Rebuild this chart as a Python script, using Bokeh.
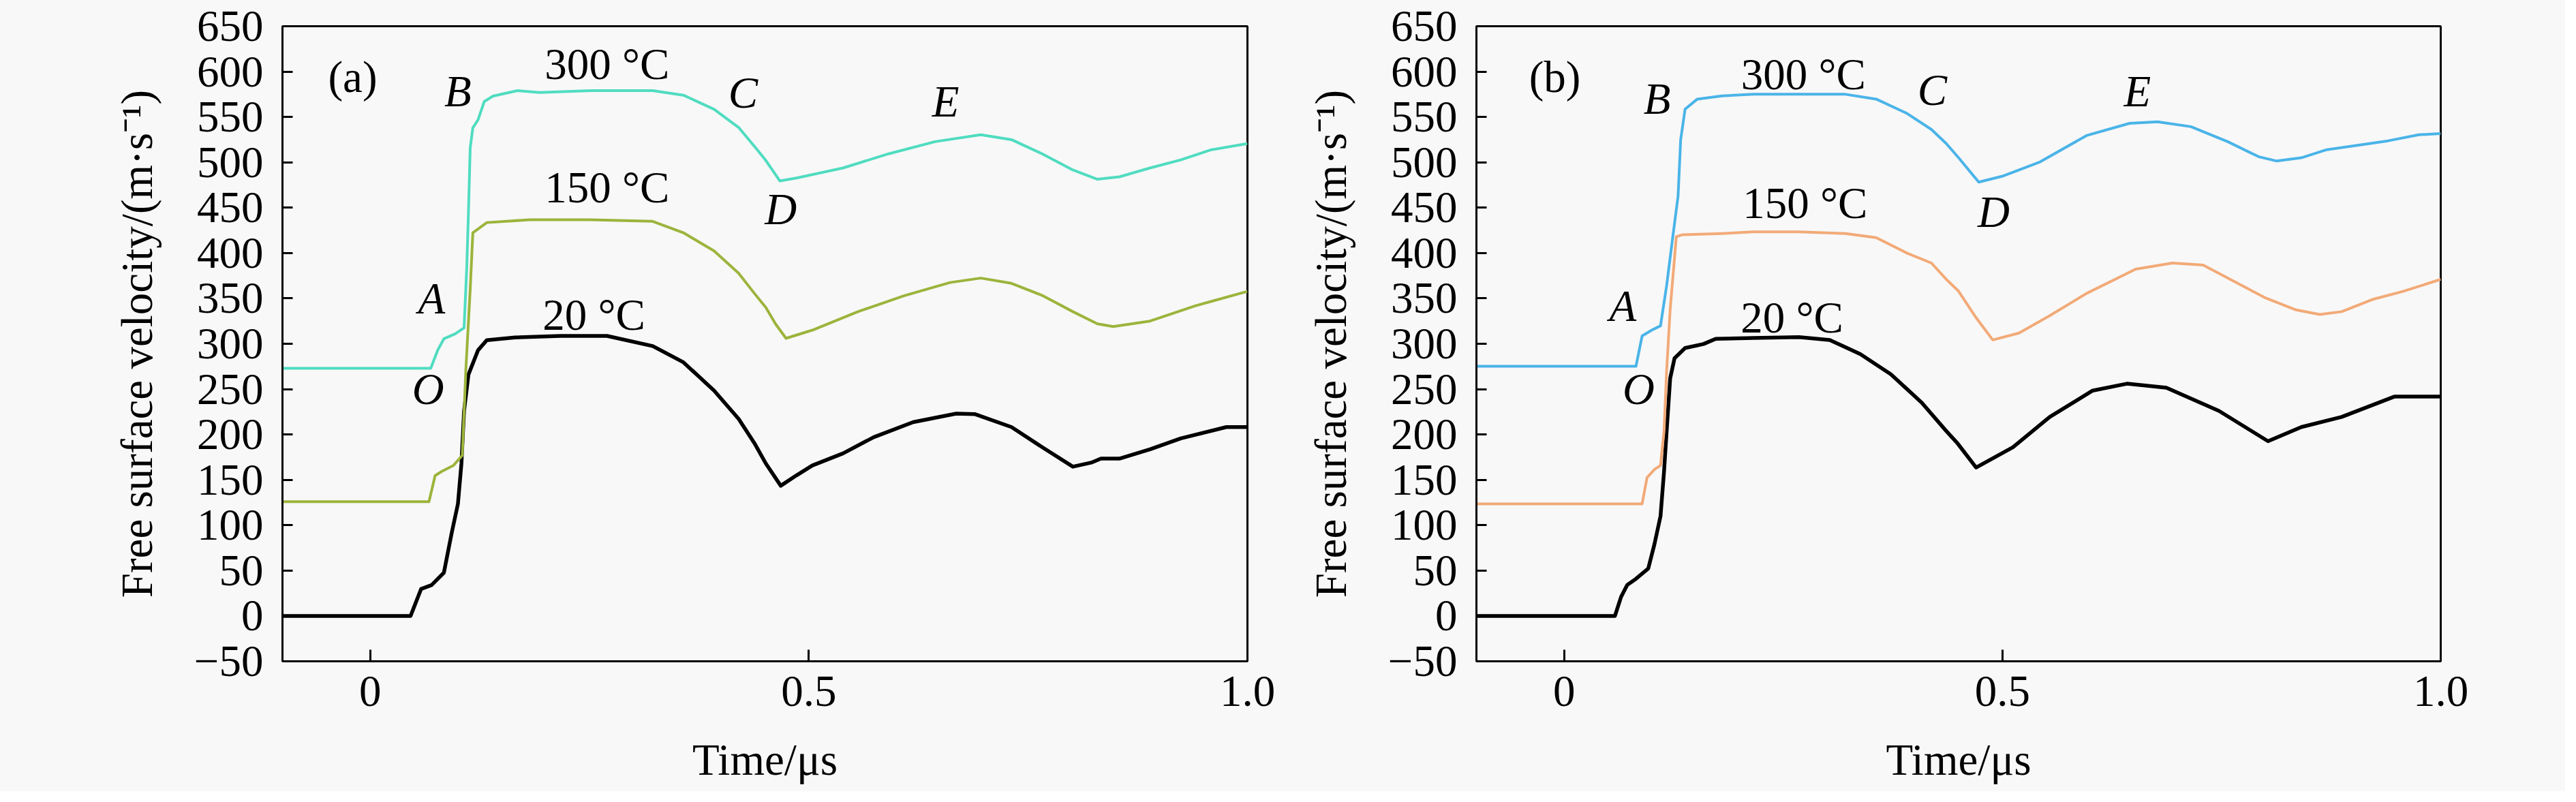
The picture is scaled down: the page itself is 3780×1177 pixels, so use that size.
from bokeh.plotting import figure
from bokeh.layouts import row
from bokeh.models import Range1d, FixedTicker
from bokeh.core.properties import value
from bokeh.embed import file_html
from bokeh.resources import INLINE

# ---------------- data ----------------
# Panel (a)
a20_t = [-0.1, 0.046, 0.058, 0.07, 0.084, 0.093, 0.1, 0.104, 0.107, 0.112, 0.123, 0.133, 0.165, 0.217,
         0.27, 0.322, 0.357, 0.392, 0.42, 0.438, 0.451, 0.468, 0.486, 0.504, 0.539, 0.574, 0.619, 0.668,
         0.689, 0.731, 0.766, 0.801, 0.822, 0.833, 0.854, 0.889, 0.924, 0.976, 1.0]
a20_v = [0, 0, 29.7, 34, 47.6, 92, 123.5, 168, 226, 266, 293, 304, 307, 308.6,
         308.6, 297.5, 279.6, 248.4, 217.2, 190.4, 168, 143.5, 155, 165.8, 179.2, 197, 213.6, 223,
         222.5, 208.2, 186, 164.5, 169, 173.4, 173.4, 183.7, 195.7, 208.2, 208.2]

a150_t = [-0.1, 0.067, 0.074, 0.081, 0.095, 0.105, 0.109, 0.114, 0.117, 0.133, 0.182, 0.25, 0.322, 0.357,
          0.392, 0.42, 0.438, 0.451, 0.462, 0.474, 0.504, 0.556, 0.609, 0.661, 0.696, 0.731, 0.766, 0.801,
          0.829, 0.847, 0.889, 0.941, 1.0]
a150_v = [126, 126, 154.7, 159, 166, 177, 270.7, 360, 422.4, 433.6, 436.7, 436.7, 435, 422.4,
          402.3, 377.8, 355.5, 340, 322, 306, 315, 335.4, 353, 367.5, 372.4, 366.6, 353.3, 335.4,
          322, 319, 325, 342, 357.7]

a300_t = [-0.1, 0.069, 0.077, 0.084, 0.097, 0.107, 0.11, 0.112, 0.114, 0.117, 0.123, 0.13, 0.14, 0.168,
          0.193, 0.252, 0.322, 0.357, 0.392, 0.42, 0.441, 0.451, 0.467, 0.486, 0.539, 0.591, 0.644, 0.696,
          0.731, 0.766, 0.801, 0.829, 0.854, 0.889, 0.924, 0.959, 1.0]
a300_v = [273, 273, 293, 305.5, 311, 317.6, 382, 445, 516, 538, 547, 567, 573, 579,
          577, 579, 579, 574, 558.5, 538.4, 514, 502, 479.5, 482.7, 493.8, 509.4, 522.8, 530.4,
          525, 509.4, 491.6, 481.3, 484, 493.8, 502.7, 513.9, 520.6]

# Panel (b)
b20_t = [-0.1, 0.058, 0.065, 0.072, 0.082, 0.096, 0.103, 0.11, 0.114, 0.117, 0.121, 0.126, 0.138, 0.159,
         0.173, 0.216, 0.268, 0.303, 0.338, 0.373, 0.408, 0.436, 0.449, 0.47, 0.512, 0.554, 0.603, 0.642,
         0.687, 0.747, 0.803, 0.841, 0.887, 0.947, 1.0]
b20_v = [0, 0, 21, 34.2, 40.9, 52.2, 78.8, 110, 159.1, 203.8, 261.8, 284.1, 295.3, 299.7,
         305.5, 306.4, 307.3, 304.2, 288.6, 266.2, 235, 203.8, 190, 163.6, 186, 219.4, 248.4, 256,
         251.5, 226, 192.6, 208.2, 219.4, 241.7, 241.7]

b150_t = [-0.1, 0.089, 0.0946, 0.103, 0.11, 0.114, 0.117, 0.121, 0.128, 0.135, 0.18, 0.216, 0.268, 0.321,
          0.356, 0.391, 0.419, 0.436, 0.45, 0.47, 0.489, 0.519, 0.554, 0.596, 0.652, 0.694, 0.729, 0.764,
          0.799, 0.834, 0.862, 0.887, 0.922, 0.957, 1.0]
b150_v = [123.5, 123.5, 152.5, 161.4, 165.8, 203.8, 270.7, 337.6, 418, 420.2, 421.5, 423.3, 423.3, 421.5,
          417, 400, 389, 371, 358, 328.7, 304.2, 311.8, 331, 355.5, 382.3, 389, 386.7, 368.9,
          351, 337.6, 332.3, 335.4, 348.8, 357.7, 371]

b300_t = [-0.1, 0.082, 0.089, 0.1, 0.11, 0.117, 0.124, 0.13, 0.133, 0.138, 0.152, 0.18, 0.216, 0.268,
          0.321, 0.356, 0.391, 0.419, 0.436, 0.45, 0.473, 0.501, 0.543, 0.596, 0.645, 0.677, 0.715, 0.757,
          0.792, 0.813, 0.841, 0.87, 0.94, 0.975, 1.0]
b300_v = [275.2, 275.2, 308.6, 315, 319.8, 364.4, 418, 462.6, 525, 558.5, 569.7, 573.2, 575, 575,
          575, 569.7, 554, 536.2, 520.6, 505, 478.2, 485, 500.5, 529.5, 543, 544.7, 539.3, 522.8,
          506.3, 501.4, 505, 513.9, 523.7, 530.4, 531.7]

y_ticks = [-50, 0, 50, 100, 150, 200, 250, 300, 350, 400, 450, 500, 550, 600, 650]
x_ticks = [0, 0.5, 1.0]
x_tick_labels = ["0", "0.5", "1.0"]
x_title = "Time/μs"
y_title = "Free surface velocity/(m·s⁻¹)"

# annotation texts and their positions (data units)
temp_text = ["300 °C", "150 °C", "20 °C"]
a_temp_x = [0.27, 0.27, 0.255]
a_temp_y = [608, 472, 332]
b_temp_x = [0.273, 0.275, 0.26]
b_temp_y = [597, 455, 329]
pt_text = ["A", "B", "C", "D", "E", "O"]
a_pt_x = [0.07, 0.10, 0.425, 0.468, 0.656, 0.066]
a_pt_y = [350, 578, 577, 448, 567, 250]
b_pt_x = [0.067, 0.106, 0.42, 0.49, 0.654, 0.085]
b_pt_y = [342, 570, 580, 445, 578, 250]

FONT = "Liberation Serif"
FS = "65px"
BG = "#f8f8f8"


def make_panel(tag, tag_x, s20, s150, s300, c150, c300, temp_xy, pt_xy, left_border, right_border, frame_w):
    p = figure(output_backend="svg", toolbar_location=None,
               frame_width=frame_w, frame_height=932,
               min_border_left=left_border, min_border_right=right_border,
               min_border_top=38, min_border_bottom=191,
               x_range=Range1d(-0.1, 1.0), y_range=Range1d(-50, 650))
    p.background_fill_color = BG
    p.border_fill_color = BG
    p.outline_line_color = "black"
    p.outline_line_width = 3
    p.xgrid.visible = False
    p.ygrid.visible = False

    for ax in (p.xaxis[0], p.yaxis[0]):
        ax.axis_line_width = 3
        ax.axis_line_color = "black"
        ax.major_tick_line_width = 3
        ax.major_tick_line_color = "black"
        ax.major_tick_out = 0
        ax.minor_tick_line_color = None
        ax.major_label_text_font = FONT
        ax.major_label_text_font_size = FS
        ax.major_label_text_color = "black"
        ax.axis_label_text_font = FONT
        ax.axis_label_text_font_size = FS
        ax.axis_label_text_font_style = "normal"
        ax.axis_label_text_color = "black"

    p.xaxis.ticker = FixedTicker(ticks=x_ticks)
    p.xaxis.major_label_overrides = {k: v for k, v in zip(x_ticks, x_tick_labels)}
    p.xaxis.major_tick_in = 17
    p.xaxis.major_label_standoff = 22
    p.xaxis.axis_label = x_title
    p.xaxis.axis_label_standoff = 40

    p.yaxis.ticker = FixedTicker(ticks=y_ticks)
    p.yaxis.major_label_overrides = {-50: "−50"}
    p.yaxis.major_tick_in = 15
    p.yaxis.major_label_standoff = 28
    p.yaxis.axis_label = y_title
    p.yaxis.axis_label_standoff = 45

    p.line(s20[0], s20[1], line_color="black", line_width=5.5, line_join="round")
    p.line(s150[0], s150[1], line_color=c150, line_width=4, line_join="round")
    p.line(s300[0], s300[1], line_color=c300, line_width=4, line_join="round")

    p.text(x=[tag_x], y=[594], text=[tag], text_font=value(FONT), text_font_size=FS,
           text_align="left", text_baseline="middle", text_color="black")
    p.text(x=temp_xy[0], y=temp_xy[1], text=temp_text, text_font=value(FONT), text_font_size=FS,
           text_align="center", text_baseline="middle", text_color="black")
    p.text(x=pt_xy[0], y=pt_xy[1], text=pt_text, text_font=value(FONT), text_font_size=FS,
           text_font_style="italic", text_align="center", text_baseline="middle", text_color="black")
    return p


pa = make_panel("(a)", -0.048, (a20_t, a20_v), (a150_t, a150_v), (a300_t, a300_v),
                "#9cb43c", "#50dcc0", (a_temp_x, a_temp_y), (a_pt_x, a_pt_y), 414, 50, 1416)
pb = make_panel("(b)", -0.04, (b20_t, b20_v), (b150_t, b150_v), (b300_t, b300_v),
                "#f2aa78", "#4ab4e8", (b_temp_x, b_temp_y), (b_pt_x, b_pt_y), 286, 183, 1415)

layout = row(pa, pb, spacing=0)
layout.styles = {"background-color": BG}

open("out.html", "w").write(file_html(layout, INLINE))
